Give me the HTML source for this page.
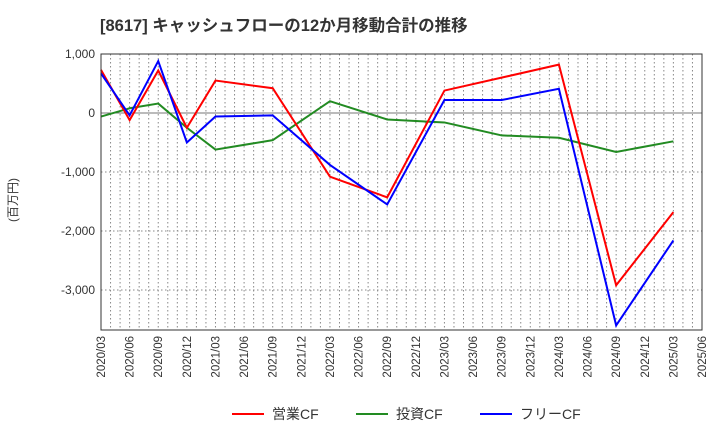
<!DOCTYPE html>
<html><head><meta charset="utf-8"><style>
body{margin:0;background:#fff;font-family:"Liberation Sans","Noto Sans CJK JP",sans-serif}
</style></head><body>
<svg id="c" width="720" height="440" xmlns="http://www.w3.org/2000/svg">
<text x="100" y="31" font-size="16.5" font-weight="bold" fill="#333" font-family="Liberation Sans, Noto Sans CJK JP, sans-serif">[8617]  キャッシュフローの12か月移動合計の推移</text>
<text transform="translate(17,200) rotate(-90)" text-anchor="middle" font-size="12" fill="#333" font-family="Liberation Sans, Noto Sans CJK JP, sans-serif">(百万円)</text>
<g id="grid"></g><g id="series"></g><g id="axes"></g>
<g font-size="14" fill="#333" font-family="Liberation Sans, Noto Sans CJK JP, sans-serif">
<line x1="232" y1="414" x2="264" y2="414" stroke="#f00" stroke-width="2"/><text x="272" y="419">営業CF</text>
<line x1="356" y1="414" x2="388" y2="414" stroke="#228b22" stroke-width="2"/><text x="396" y="419">投資CF</text>
<line x1="480" y1="414" x2="512" y2="414" stroke="#00f" stroke-width="2"/><text x="520" y="419">フリーCF</text>
</g>
</svg>
<script>
const xLabels=["2020/03","2020/06","2020/09","2020/12","2021/03","2021/06","2021/09","2021/12","2022/03","2022/06","2022/09","2022/12","2023/03","2023/06","2023/09","2023/12","2024/03","2024/06","2024/09","2024/12","2025/03","2025/06"];
const yTicks=[1000,0,-1000,-2000,-3000];
const yTickLabels=["1,000","0","-1,000","-2,000","-3,000"];
const opIdx=[0,1,2,3,4,6,8,10,12,16,18,20];
const opVals=[730,-120,720,-250,550,420,-1080,-1430,380,820,-2920,-1680];
const invIdx=[0,1,2,3,4,6,8,10,12,14,16,18,20];
const invVals=[-60,80,160,-250,-620,-460,200,-110,-160,-380,-420,-660,-480];
const freeIdx=[0,1,2,3,4,6,8,10,12,14,16,18,20];
const freeVals=[670,-40,880,-500,-60,-40,-880,-1550,220,220,410,-3600,-2160];
const L=101,R=702,T=54,B=330;
const X=i=>L+i*(R-L)/63*3;
const Y=v=>113-v*0.059;
const NS="http://www.w3.org/2000/svg";
function mk(p,t,a){const e=document.createElementNS(NS,t);for(const k in a)e.setAttribute(k,a[k]);p.appendChild(e);return e;}
const g=document.getElementById('grid'),ax=document.getElementById('axes'),s=document.getElementById('series');
for(let m=1;m<63;m++){const l=mk(g,'line',{x1:L+m*(R-L)/63,x2:L+m*(R-L)/63,y1:T,y2:B,stroke:'#888','stroke-dasharray':'1.5,2.5','stroke-width':1});

}
yTicks.forEach((v,i)=>{const l=mk(g,'line',{x1:L,x2:R,y1:Y(v),y2:Y(v),stroke:v===0?'#777':'#888','stroke-dasharray':v===0?'none':'1.5,2.5','stroke-width':1});


const t=mk(ax,'text',{x:L-6,y:Y(v)+4,'text-anchor':'end','font-size':12,fill:'#333'});t.textContent=yTickLabels[i];

});
xLabels.forEach((lb,i)=>{const x=X(i);const t=mk(ax,'text',{transform:`translate(${x+4},${B+6}) rotate(-90)`,'text-anchor':'end','font-size':11.5,fill:'#333'});t.textContent=lb;

});
const fr=mk(ax,'rect',{x:L,y:T,width:R-L,height:B-T,fill:'none',stroke:'#333','stroke-width':1});


function line(idx,vals,col,name){const p=mk(s,'polyline',{points:idx.map((q,k)=>X(q)+','+Y(vals[k])).join(' '),fill:'none',stroke:col,'stroke-width':2});

}
line(invIdx,invVals,'#228b22','investing-cf-line');
line(opIdx,opVals,'#f00','operating-cf-line');
line(freeIdx,freeVals,'#00f','free-cf-line');
</script>
</body></html>
